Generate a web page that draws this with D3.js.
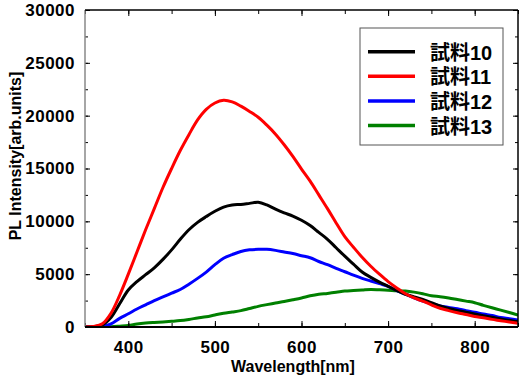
<!DOCTYPE html>
<html><head><meta charset="utf-8">
<script src="https://cdn.jsdelivr.net/npm/d3@7"></script>
<style>
html,body{margin:0;padding:0;background:#fff;}
svg text{font-family:"Liberation Sans",Arial,"Noto Sans CJK JP",sans-serif;font-weight:bold;}
</style></head>
<body><svg id="c" width="522" height="389"></svg>
<script>
const wavelengths = d3.range(350, 851, 10);
const seriesNames = ["試料10", "試料11", "試料12", "試料13"];
const seriesColors = ["#000000", "#ff0000", "#0000ff", "#008000"];
const sample10 = [0,30,200,900,2200,3500,4300,4950,5600,6400,7300,8300,9200,9900,10450,10950,11350,11550,11600,11700,11800,11550,11150,10800,10500,10100,9600,8950,8300,7500,6700,5950,5200,4700,4250,3850,3450,3100,2850,2600,2300,1990,1750,1570,1400,1230,1070,920,760,630,500];
const sample11 = [0,50,300,1300,3000,5000,7100,9200,11200,13200,15000,16700,18200,19600,20600,21200,21450,21300,20900,20400,19850,19100,18250,17250,16150,14950,13800,12500,11200,9850,8550,7550,6600,5750,5000,4300,3700,3150,2750,2450,2100,1770,1550,1350,1180,1000,870,720,600,470,350];
const sample12 = [0,0,40,300,820,1250,1700,2100,2500,2850,3200,3550,4050,4600,5200,5900,6500,6850,7150,7300,7350,7350,7250,7100,6950,6750,6550,6200,5900,5550,5230,4900,4600,4350,4100,3850,3450,3100,2750,2450,2200,1990,1850,1720,1550,1400,1230,1080,900,780,650];
const sample13 = [0,0,0,20,80,150,280,370,430,480,540,610,720,850,970,1140,1300,1420,1550,1750,1950,2120,2280,2420,2580,2750,2950,3100,3180,3280,3400,3450,3500,3550,3520,3480,3420,3400,3300,3150,2950,2870,2750,2600,2450,2300,2050,1820,1600,1370,1135];
const xTicks = [400, 500, 600, 700, 800];
const yTicks = [0, 5000, 10000, 15000, 20000, 25000, 30000];
const xTitle = "Wavelength[nm]";
const yTitle = "PL Intensity[arb.units]";

const allSeries = [sample10, sample11, sample12, sample13];
const svg = d3.select("#c");
const L = 85, R = 518, T = 10, B = 327;
const x = d3.scaleLinear().domain([350, 850]).range([L, R]);
const y = d3.scaleLinear().domain([0, 30000]).range([B, T]);

svg.append("clipPath").attr("id","clip").append("rect")
  .attr("x", L).attr("y", T).attr("width", R-L).attr("height", B-T);

const line = d3.line().x((d,i)=>x(wavelengths[i])).y(d=>y(d)).curve(d3.curveCatmullRom.alpha(0.5));
const g = svg.append("g").attr("clip-path","url(#clip)");
[3,2,0,1].forEach(k=>{
  g.append("path").datum(allSeries[k]).attr("d", line)
    .attr("fill","none").attr("stroke", seriesColors[k]).attr("stroke-width", 3)
    .attr("stroke-linejoin","round");
});

const xMinor = d3.range(350, 851, 50);
const yMinor = d3.range(0, 30001, 2500);
const axB = svg.append("g").attr("transform", `translate(0,${B})`)
  .call(d3.axisBottom(x).tickValues(xMinor).tickSize(-4).tickFormat(""));
axB.select(".domain").remove();
const axBMaj = svg.append("g").attr("transform", `translate(0,${B})`)
  .call(d3.axisBottom(x).tickValues(xTicks).tickSize(-6).tickPadding(14).tickFormat(d3.format("d")));
axBMaj.select(".domain").remove();
axBMaj.selectAll("text").attr("font-size", 17).attr("fill","#000").attr("letter-spacing","0.5");

const axT = svg.append("g").attr("transform", `translate(0,${T})`)
  .call(d3.axisTop(x).tickValues(xMinor).tickSize(-4).tickFormat(""));
axT.select(".domain").remove();
const axTMaj = svg.append("g").attr("transform", `translate(0,${T})`)
  .call(d3.axisTop(x).tickValues(xTicks).tickSize(-6).tickFormat(""));
axTMaj.select(".domain").remove();

const axL = svg.append("g").attr("transform", `translate(${L},0)`)
  .call(d3.axisLeft(y).tickValues(yMinor).tickSize(-3).tickFormat(""));
axL.select(".domain").remove();
const axLMaj = svg.append("g").attr("transform", `translate(${L},0)`)
  .call(d3.axisLeft(y).tickValues(yTicks).tickSize(-5).tickPadding(10).tickFormat(d3.format("d")));
axLMaj.select(".domain").remove();
axLMaj.selectAll("text").attr("font-size", 17).attr("fill","#000").attr("letter-spacing","0.5");

const axR = svg.append("g").attr("transform", `translate(${R},0)`)
  .call(d3.axisRight(y).tickValues(yMinor).tickSize(-3).tickFormat(""));
axR.select(".domain").remove();
const axRMaj = svg.append("g").attr("transform", `translate(${R},0)`)
  .call(d3.axisRight(y).tickValues(yTicks).tickSize(-5).tickFormat(""));
axRMaj.select(".domain").remove();
svg.selectAll(".tick line").attr("stroke","#000");

svg.append("line").attr("x1",L).attr("x2",L).attr("y1",T).attr("y2",B).attr("stroke","#888").attr("stroke-width",1.5);
svg.append("line").attr("x1",R).attr("x2",R).attr("y1",T).attr("y2",B).attr("stroke","#000").attr("stroke-width",1.5);
svg.append("line").attr("x1",L).attr("x2",R).attr("y1",T).attr("y2",T).attr("stroke","#000").attr("stroke-width",1.5);
svg.append("line").attr("x1",L).attr("x2",R).attr("y1",B).attr("y2",B).attr("stroke","#000").attr("stroke-width",2);

svg.append("text").attr("x", 293).attr("y", 372).attr("text-anchor","middle")
  .attr("font-size", 16).attr("fill","#000").text(xTitle);
svg.append("text").attr("transform","translate(21,156) rotate(-90)").attr("text-anchor","middle")
  .attr("font-size", 16).attr("fill","#000").text(yTitle);

const lg = svg.append("g");
lg.append("rect").attr("x",360).attr("y",28).attr("width",143).attr("height",117)
  .attr("fill","#fff").attr("stroke","#555").attr("stroke-width",1);
seriesNames.forEach((n,i)=>{
  const yy = 51.7 + i*24.6;
  lg.append("line").attr("x1",368).attr("x2",415).attr("y1",yy).attr("y2",yy)
    .attr("stroke",seriesColors[i]).attr("stroke-width",3.5);
  lg.append("text").attr("x",430).attr("y",yy+8).attr("font-size",20).attr("fill","#000").text(n);
});
</script></body></html>
